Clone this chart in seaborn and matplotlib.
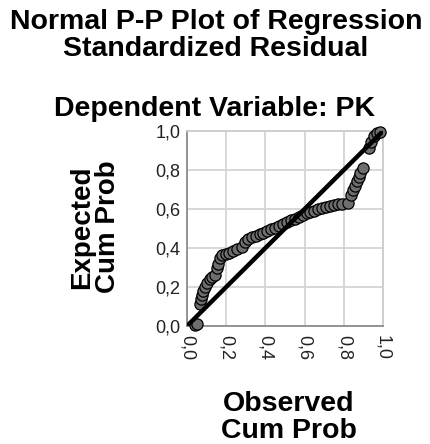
import matplotlib
matplotlib.use("Agg")
import matplotlib.pyplot as plt
import seaborn as sns
import pandas as pd

# Observed cumulative probability (x) and expected cumulative probability (y)
observed = [0.04, 0.05, 0.065, 0.07, 0.075, 0.08, 0.09, 0.10, 0.115, 0.13, 0.145,
            0.155, 0.16, 0.17, 0.18, 0.20, 0.215, 0.235, 0.255, 0.28, 0.295, 0.31,
            0.33, 0.35, 0.37, 0.39, 0.41, 0.43, 0.45, 0.47, 0.49, 0.51, 0.53, 0.55,
            0.57, 0.59, 0.61, 0.63, 0.65, 0.67, 0.69, 0.71, 0.73, 0.75, 0.77, 0.79,
            0.82, 0.835, 0.845, 0.855, 0.865, 0.875, 0.885, 0.90, 0.93, 0.94, 0.955,
            0.97, 0.985]
expected = [0.005, 0.01, 0.115, 0.14, 0.16, 0.18, 0.20, 0.22, 0.24, 0.25, 0.26,
            0.30, 0.32, 0.35, 0.365, 0.37, 0.375, 0.385, 0.395, 0.405, 0.43, 0.445,
            0.455, 0.462, 0.47, 0.478, 0.485, 0.495, 0.505, 0.515, 0.525, 0.535, 0.545, 0.55,
            0.56, 0.57, 0.58, 0.586, 0.592, 0.598, 0.605, 0.612, 0.616, 0.62, 0.624, 0.627,
            0.63, 0.67, 0.695, 0.72, 0.745, 0.765, 0.785, 0.81, 0.915, 0.945, 0.975,
            0.99, 0.995]
ref_x = [0.0, 1.0]
ref_y = [0.0, 1.0]
ticks = [0.0, 0.2, 0.4, 0.6, 0.8, 1.0]
tick_labels = ["0,0", "0,2", "0,4", "0,6", "0,8", "1,0"]

title_text = "Normal P-P Plot of Regression\nStandardized Residual"
subtitle_text = "Dependent Variable: PK"
xlabel_lines = ["Observed", "Cum Prob"]
ylabel_lines = ["Expected", "Cum Prob"]

sns.set_theme(style="whitegrid")
plt.rcParams['font.family'] = ['Liberation Sans', 'DejaVu Sans']

W, H = 430, 444
fig = plt.figure(figsize=(W / 100, H / 100), dpi=100)
ax = fig.add_axes([187 / W, 118 / H, 196 / W, 195 / H])

df = pd.DataFrame({"obs": observed, "exp": expected})
sns.scatterplot(data=df, x="obs", y="exp", s=65, color="#6e6e6e",
                edgecolor="black", linewidth=0.9, ax=ax, zorder=3, clip_on=False)
sns.lineplot(x=ref_x, y=ref_y, color="black", linewidth=3.2, ax=ax, zorder=4)

ax.set_xlim(0, 1)
ax.set_ylim(0, 1)
ax.set_xticks(ticks)
ax.set_yticks(ticks)
ax.set_xticklabels(tick_labels, rotation=-90, fontsize=13, color="#222222")
ax.set_yticklabels(tick_labels, fontsize=13, color="#222222")
ax.tick_params(axis="y", length=0, pad=4.5)
ax.tick_params(axis="x", length=0, pad=6.5)
ax.set_xlabel("")
ax.set_ylabel("")
ax.grid(True, color="#d4d4d4", linewidth=1.3)
for s in ax.spines.values():
    s.set_visible(True)
    s.set_color("#cccccc")
    s.set_linewidth(1.3)
ax.spines["left"].set_color("#8c8c8c")
ax.spines["bottom"].set_color("#8c8c8c")

bold = dict(fontweight="bold", color="black")
fig.text(216 / W, 1 - 9 / H, title_text, ha="center", va="top",
         fontsize=20.5, linespacing=1.03, **bold)
fig.text(214 / W, 1 - 116 / H, subtitle_text, ha="center", va="baseline",
         fontsize=20.5, **bold)
fig.text(288.5 / W, 1 - 411 / H, xlabel_lines[0], ha="center", va="baseline",
         fontsize=20.5, **bold)
fig.text(288.5 / W, 1 - 438 / H, xlabel_lines[1], ha="center", va="baseline",
         fontsize=20.5, **bold)
fig.text(89 / W, 1 - 227 / H, ylabel_lines[0], ha="center", va="baseline",
         rotation=90, rotation_mode="anchor", fontsize=20, **bold)
fig.text(115 / W, 1 - 227 / H, ylabel_lines[1], ha="center", va="baseline",
         rotation=90, rotation_mode="anchor", fontsize=20, **bold)

fig.savefig("out.png", dpi=100)
